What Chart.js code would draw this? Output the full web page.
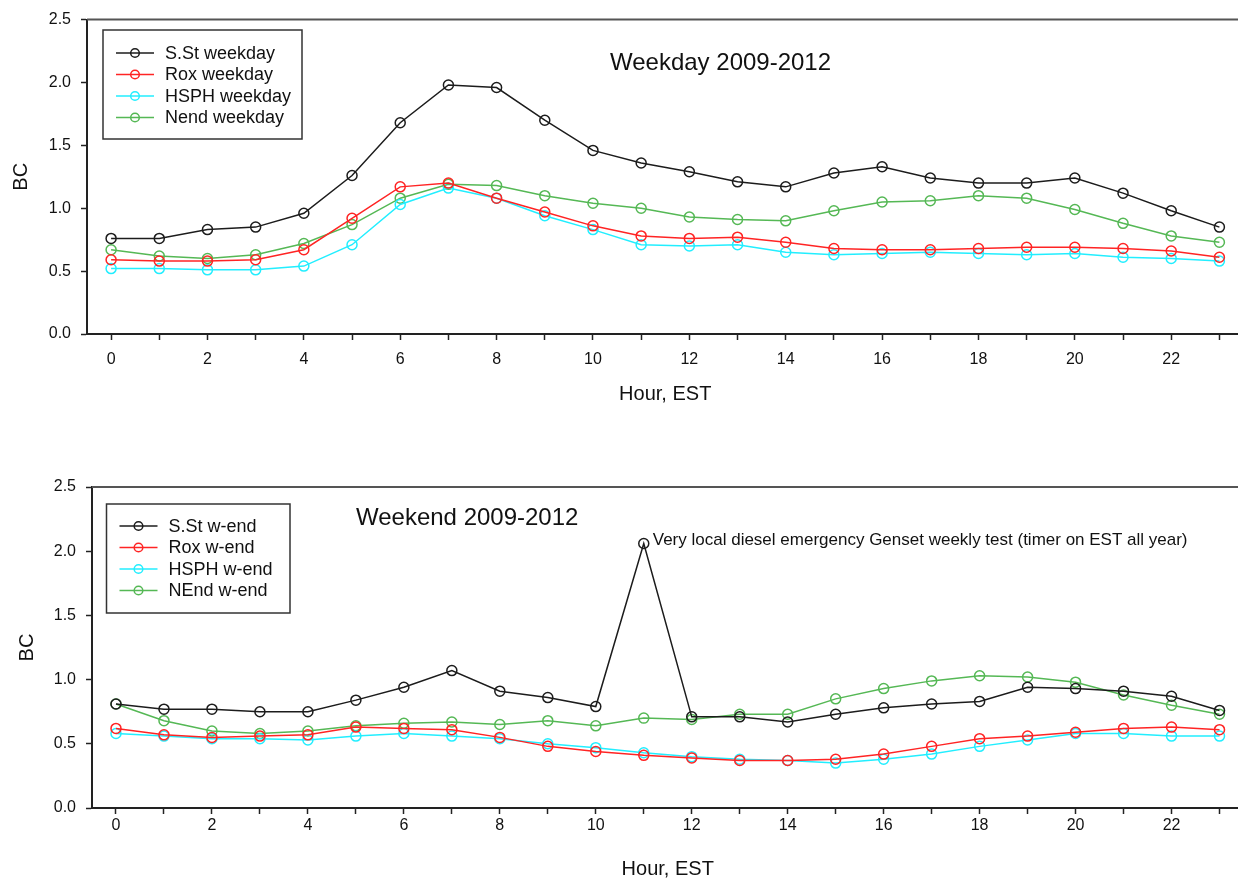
<!DOCTYPE html>
<html lang="en">
<head>
<meta charset="UTF-8">
<title>BC diurnal profiles 2009-2012</title>
<script src="https://cdn.jsdelivr.net/npm/chart.js"></script>
<style>
  html, body { margin: 0; padding: 0; background: #fff; overflow: hidden; width: 1238px; height: 881px; }
  canvas { position: absolute; left: 0; }
  #weekdayChart { top: 0; }
  #weekendChart { top: 440px; }
</style>
</head>
<body>
<canvas id="weekdayChart" width="1250" height="420"></canvas>
<canvas id="weekendChart" width="1250" height="441"></canvas>

<script>
// hours of the day (x categories) and y tick values
const hours = [0, 1, 2, 3, 4, 5, 6, 7, 8, 9, 10, 11, 12, 13, 14, 15, 16, 17, 18, 19, 20, 21, 22, 23];
const yTicks = [0, 0.5, 1.0, 1.5, 2.0, 2.5];

const weekdayNames = ["S.St weekday", "Rox weekday", "HSPH weekday", "Nend weekday"];
const weekendNames = ["S.St w-end", "Rox w-end", "HSPH w-end", "NEnd w-end"];

// weekday means
const sstWeekday  = [0.76, 0.76, 0.83, 0.85, 0.96, 1.26, 1.68, 1.98, 1.96, 1.70, 1.46, 1.36, 1.29, 1.21, 1.17, 1.28, 1.33, 1.24, 1.20, 1.20, 1.24, 1.12, 0.98, 0.85];
const roxWeekday  = [0.59, 0.58, 0.58, 0.59, 0.67, 0.92, 1.17, 1.20, 1.08, 0.97, 0.86, 0.78, 0.76, 0.77, 0.73, 0.68, 0.67, 0.67, 0.68, 0.69, 0.69, 0.68, 0.66, 0.61];
const hsphWeekday = [0.52, 0.52, 0.51, 0.51, 0.54, 0.71, 1.03, 1.16, 1.08, 0.94, 0.83, 0.71, 0.70, 0.71, 0.65, 0.63, 0.64, 0.65, 0.64, 0.63, 0.64, 0.61, 0.60, 0.58];
const nendWeekday = [0.67, 0.62, 0.60, 0.63, 0.72, 0.87, 1.08, 1.19, 1.18, 1.10, 1.04, 1.00, 0.93, 0.91, 0.90, 0.98, 1.05, 1.06, 1.10, 1.08, 0.99, 0.88, 0.78, 0.73];

// weekend means
const sstWeekend  = [0.81, 0.77, 0.77, 0.75, 0.75, 0.84, 0.94, 1.07, 0.91, 0.86, 0.79, 2.06, 0.71, 0.71, 0.67, 0.73, 0.78, 0.81, 0.83, 0.94, 0.93, 0.91, 0.87, 0.76];
const roxWeekend  = [0.62, 0.57, 0.55, 0.56, 0.57, 0.63, 0.62, 0.61, 0.55, 0.48, 0.44, 0.41, 0.39, 0.37, 0.37, 0.38, 0.42, 0.48, 0.54, 0.56, 0.59, 0.62, 0.63, 0.61];
const hsphWeekend = [0.58, 0.56, 0.54, 0.54, 0.53, 0.56, 0.58, 0.56, 0.54, 0.50, 0.47, 0.43, 0.40, 0.38, 0.37, 0.35, 0.38, 0.42, 0.48, 0.53, 0.58, 0.58, 0.56, 0.56];
const nendWeekend = [0.81, 0.68, 0.60, 0.58, 0.60, 0.64, 0.66, 0.67, 0.65, 0.68, 0.64, 0.70, 0.69, 0.73, 0.73, 0.85, 0.93, 0.99, 1.03, 1.02, 0.98, 0.88, 0.80, 0.73];

const seriesColors = ["#1c1c1c", "#ff2424", "#22eeff", "#55b855"];
const FONT = '"Liberation Sans", Arial, sans-serif';

Chart.defaults.font.family = FONT;
Chart.defaults.color = "#111";

// frame top line, boxed legend, panel title and the genset note
const decorPlugin = {
    id: "decor",
    afterDatasetsDraw(chart, args, o) {
        const { ctx, chartArea: a, scales } = chart;
        ctx.save();

        ctx.strokeStyle = "#555";
        ctx.lineWidth = 2;
        ctx.beginPath();
        ctx.moveTo(a.left, a.top);
        ctx.lineTo(a.right + 10, a.top);
        ctx.stroke();

        // legend
        const L = o.legend;
        ctx.strokeStyle = "#333";
        ctx.lineWidth = 1.5;
        ctx.strokeRect(L.x, L.y, L.w, L.h);
        ctx.font = "18px " + FONT;
        ctx.textAlign = "left";
        ctx.textBaseline = "middle";
        chart.data.datasets.forEach((ds, i) => {
            const y = L.firstRow + i * L.rowStep;
            ctx.strokeStyle = ds.borderColor;
            ctx.lineWidth = 1.5;
            ctx.beginPath();
            ctx.moveTo(L.x + 13, y);
            ctx.lineTo(L.x + 51, y);
            ctx.stroke();
            ctx.beginPath();
            ctx.arc(L.x + 32, y, 4.3, 0, Math.PI * 2);
            ctx.stroke();
            ctx.fillStyle = "#111";
            ctx.fillText(ds.label, L.x + 62, y + 1);
        });

        // panel title
        ctx.font = "24px " + FONT;
        ctx.textBaseline = "alphabetic";
        ctx.fillStyle = "#111";
        ctx.fillText(o.title, o.titleX, o.titleY);

        // note next to a data point
        if (o.note) {
            const px = scales.x.getPixelForValue(o.note.x);
            const py = scales.y.getPixelForValue(o.note.y);
            ctx.font = "17px " + FONT;
            ctx.fillText(o.note.text, px + 9, py + 2);
        }
        ctx.restore();
    }
};

function buildChart(id, names, series, deco, lay) {
    const datasets = series.map((vals, i) => ({
        label: names[i],
        data: hours.map((h, j) => ({ x: h, y: vals[j] })),
        borderColor: seriesColors[i],
        backgroundColor: "transparent",
        borderWidth: 1.5,
        pointRadius: 5,
        pointBorderWidth: 1.5,
        pointBorderColor: seriesColors[i],
        pointBackgroundColor: "transparent",
        tension: 0,
        fill: false
    }));

    return new Chart(document.getElementById(id), {
        type: "line",
        data: { datasets: datasets },
        options: {
            responsive: false,
            animation: false,
            layout: { padding: { top: lay.top, right: 6, left: 0, bottom: 0 } },
            plugins: {
                legend: { display: false },
                tooltip: { enabled: false },
                decor: deco
            },
            scales: {
                x: {
                    type: "linear",
                    min: -0.5,
                    max: 23.5,
                    afterBuildTicks: s => { s.ticks = hours.map(v => ({ value: v })); },
                    afterFit: s => { s.height = lay.xHeight; },
                    ticks: {
                        autoSkip: false,
                        maxRotation: 0,
                        padding: lay.xPad,
                        font: { size: 16 },
                        color: "#111",
                        callback: v => (v % 2 === 0 ? String(v) : "")
                    },
                    grid: { drawOnChartArea: false, tickLength: 6, tickColor: "#222", tickWidth: 1.5 },
                    border: { color: "#222", width: 2 },
                    title: { display: true, text: "Hour, EST", font: { size: 20 }, color: "#111", padding: { top: 0, bottom: lay.xTitlePad } }
                },
                y: {
                    min: 0,
                    max: 2.5,
                    afterBuildTicks: s => { s.ticks = yTicks.map(v => ({ value: v })); },
                    afterFit: s => { s.width = lay.yWidth; },
                    ticks: {
                        padding: 10,
                        font: { size: 16 },
                        color: "#111",
                        callback: v => v.toFixed(1)
                    },
                    grid: { drawOnChartArea: false, tickLength: 6, tickColor: "#222", tickWidth: 1.5 },
                    border: { color: "#222", width: 2 },
                    title: { display: true, text: "BC", font: { size: 20 }, color: "#111", padding: { top: lay.yTitlePad, bottom: 0 } }
                }
            }
        },
        plugins: [decorPlugin]
    });
}

buildChart("weekdayChart", weekdayNames,
    [sstWeekday, roxWeekday, hsphWeekday, nendWeekday],
    {
        legend: { x: 103, y: 30, w: 199, h: 109, firstRow: 53, rowStep: 21.5 },
        title: "Weekday 2009-2012", titleX: 610, titleY: 70
    },
    { top: 14, xHeight: 86, xPad: 10, xTitlePad: 14, yWidth: 87, yTitlePad: 9 });

buildChart("weekendChart", weekendNames,
    [sstWeekend, roxWeekend, hsphWeekend, nendWeekend],
    {
        legend: { x: 106.5, y: 64, w: 183.5, h: 109, firstRow: 86, rowStep: 21.5 },
        title: "Weekend 2009-2012", titleX: 356, titleY: 85,
        note: { x: 11, y: sstWeekend[11], text: "Very local diesel emergency Genset weekly test (timer on EST all year)" }
    },
    { top: 47, xHeight: 73, xPad: 2, xTitlePad: 0, yWidth: 92, yTitlePad: 15 });
</script>
</body>
</html>
